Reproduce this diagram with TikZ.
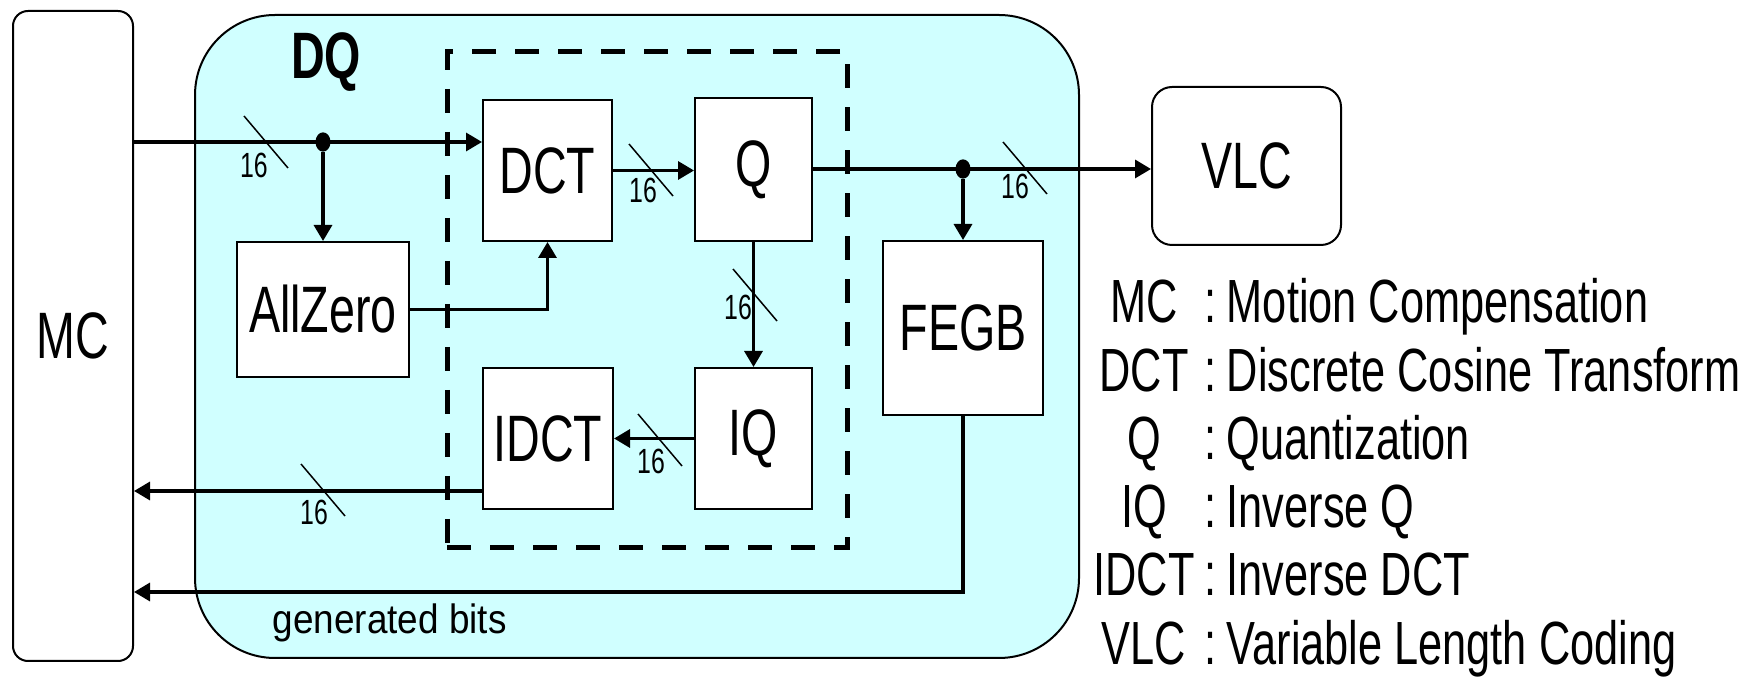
\documentclass[tikz,border=0pt]{standalone}
\usepackage{fontspec}
\setmainfont{Liberation Sans}[FakeStretch=0.71]
\newfontfamily\widefont{Liberation Sans}[FakeStretch=0.9]
\usetikzlibrary{arrows.meta,shapes.geometric}
\definecolor{dqcyan}{RGB}{208,255,255}

\begin{document}
\begin{tikzpicture}[
    x=0.3pt, y=-0.3pt,
    block/.style={draw, fill=white, line width=0.6pt, inner sep=0pt, font=\fontsize{19.7}{22}\selectfont},
    region/.style={draw, fill=dqcyan, line width=0.6pt, rounded corners=24pt, inner sep=0pt},
    dashbox/.style={draw, line width=1.5pt, dash pattern=on 7.2pt off 5.7pt, inner sep=0pt},
    bus/.style={line width=1pt, -{Triangle[length=4.8pt,width=5.4pt]}},
    slash/.style={line width=0.45pt},
    buslabel/.style={inner sep=0pt, font=\fontsize{10.5}{12}\selectfont},
    junction/.style={ellipse, fill, inner sep=0pt, minimum width=4.5pt, minimum height=5.8pt},
    legabbr/.style={anchor=base, inner sep=0pt, font=\fontsize{18.3}{20}\selectfont},
    legtext/.style={anchor=base west, inner sep=0pt, font=\fontsize{18.3}{20}\selectfont}
]
\useasboundingbox (0,0) rectangle (1751,677);

% DQ region with the transform / quantization core
\node[region, minimum width=265.2pt, minimum height=192.9pt] (dq) at (637,336.5) {};
\node[inner sep=0pt, font=\bfseries\fontsize{19.7}{22}\selectfont] (dqlabel) at (326,62) {DQ};
\node[dashbox, minimum width=120pt, minimum height=148.8pt] (core) at (647,300) {};

% Blocks
\node[block, rounded corners=4.5pt, minimum width=36pt, minimum height=195pt] (mc) at (73,336) {MC};
\node[block, minimum width=38.7pt, minimum height=42.3pt] (dct) at (547.5,170.5) {DCT};
\node[block, minimum width=35.1pt, minimum height=42.9pt] (q) at (753.5,169.5) {Q};
\node[block, minimum width=51.6pt, minimum height=40.5pt] (allzero) at (323,309.5) {AllZero};
\node[block, minimum width=39pt, minimum height=42.3pt] (idct) at (548,438.5) {IDCT};
\node[block, minimum width=35.1pt, minimum height=42.3pt] (iq) at (753.5,438.5) {IQ};
\node[block, minimum width=48pt, minimum height=52.2pt] (fegb) at (963,328) {FEGB};
\node[block, rounded corners=6pt, minimum width=56.7pt, minimum height=47.4pt] (vlc) at (1246.5,166) {VLC};

% Branch points
\node[junction] (j1) at (allzero.north |- 0,142) {};
\node[junction] (j2) at (fegb.north |- 0,169) {};
\coordinate (r1) at ([yshift=5.7pt]idct.south west);
\coordinate (gb) at (fegb.south |- 0,592);

% Data paths
\draw[bus] (mc.east |- j1) -- (dct.west |- j1);
\draw[bus] (j1) -- (allzero.north);
\draw[bus] (allzero.east) -| (dct.south);
\draw[bus] (dct.east) -- (q.west |- dct.east);
\draw[bus] (q.east |- j2) -- (vlc.west |- j2);
\draw[bus] (j2) -- (fegb.north);
\draw[bus] (q.south) -- (iq.north);
\draw[bus] (iq.west) -- (idct.east);
\draw[bus] (r1) -- (mc.east |- r1);
\draw[bus] (fegb.south) -- (gb) -- (mc.east |- gb);
\node[anchor=base west, inner sep=0pt, font=\widefont\fontsize{12.3}{14}\selectfont] (gbits) at (272,633) {generated bits};

% 16-bit bus marks
\foreach \x/\y/\lx/\ly [count=\i] in {266/142/-12/23, 651/170/-8/20, 1025/168/-10/18, 755/295/-17/12, 660/440/-9/21, 323/490/-9/22} {
    \draw[slash] (\x-22,\y-26) -- (\x+22,\y+26);
    \node[buslabel] (w\i) at (\x+\lx,\y+\ly) {16};
}

% Legend
\foreach \abbr/\desc [count=\i] in {MC/Motion Compensation, DCT/Discrete Cosine Transform, Q/Quantization, IQ/Inverse Q, IDCT/Inverse DCT, VLC/Variable Length Coding} {
    \node[legabbr] (abbr-\i) at (1144,254.8+68.2*\i) {\abbr};
    \node[legtext] (desc-\i) at (1204,254.8+68.2*\i) {:\,\desc};
}
\end{tikzpicture}
\end{document}
